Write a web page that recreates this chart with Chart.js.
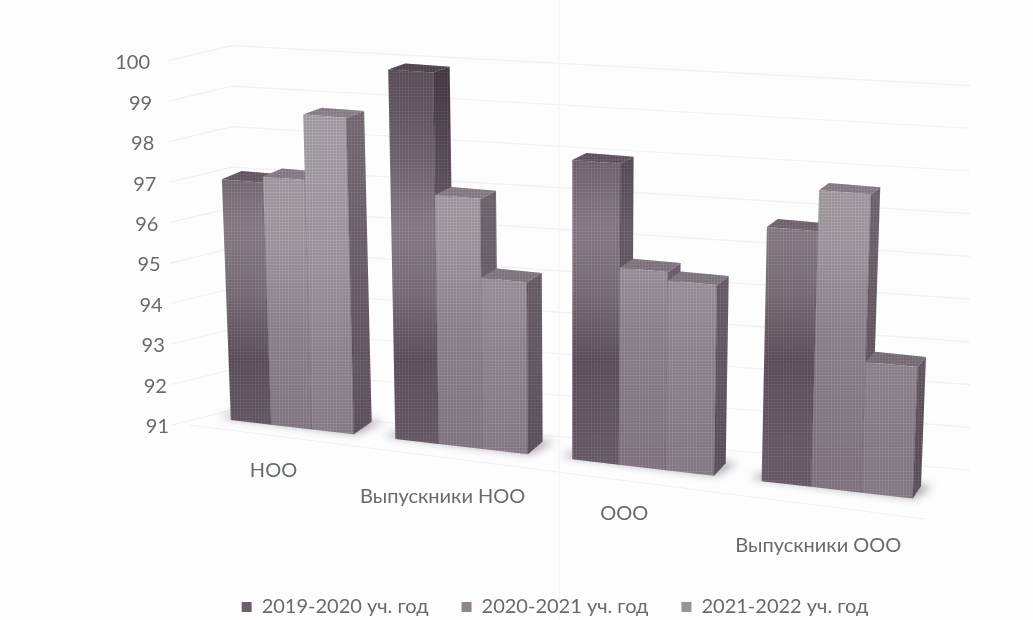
<!DOCTYPE html>
<html lang="ru">
<head>
<meta charset="utf-8">
<title>Chart</title>
<script src="https://cdn.jsdelivr.net/npm/chart.js@4"></script>
<style>
  html, body { margin: 0; padding: 0; background: #fdfdfe; }
  #wrap { width: 1033px; height: 620px; }
</style>
</head>
<body>
<div id="wrap"><canvas id="chart" width="1033" height="620"></canvas></div>
<script>
'use strict';

const categories = ['НОО', 'Выпускники НОО', 'ООО', 'Выпускники ООО'];
const seriesNames = ['2019-2020 уч. год', '2020-2021 уч. год', '2021-2022 уч. год'];
const values2019 = [96.95, 99.95, 98.1, 96.9];
const values2020 = [97.1, 97.0, 95.65, 97.85];
const values2021 = [98.7, 95.1, 95.45, 94.0];
const yMin = 91;
const yMax = 100;

// Style of the three series
const legendColors = ['#6b5f69', '#8f858e', '#9a919a'];
const frontStops = [
    [[0.02, '#5d515b'], [0.2, '#6f636d'], [0.38, '#8a7f88'], [0.52, '#7d717b'], [0.68, '#5f535d'], [0.9, '#6a5e68']],
    [[0.1, '#aaa1a9'], [0.4, '#a59ca4'], [0.62, '#908690'], [0.9, '#857a84']],
    [[0.1, '#aca4ac'], [0.4, '#a59da5'], [0.65, '#948a93'], [0.9, '#8b808a']]
];
const sideStops = [
    [[0.02, '#463b45'], [0.4, '#6b5f69'], [0.7, '#4f434d'], [0.9, '#574b55']],
    [[0.1, '#7a6f79'], [0.7, '#655a64'], [0.9, '#5f545e']],
    [[0.1, '#7a6f79'], [0.7, '#655a64'], [0.9, '#5f545e']]
];
const textColor = '#666a6e';
const gridColor = '#f0f0f4';
const labelFont = '20px Lato, "Open Sans", sans-serif';

// Fake 3D view: flat chart pixels are bent into the tilted picture
const view = {
    floorY: 420,
    floorSlope: 0.115,
    originX: 230,
    vanishX: 571,
    lean: 0.00011,
    grow: 0.00012
};

function screenX(chart, u) {
    const area = chart.chartArea;
    const t = (u - area.left) / ((area.right - area.left) / categories.length) - 0.5;
    return 291.5 + 163 * t + 6.2 * t * t;
}

function project(chart, u, y) {
    const X = screenX(chart, u);
    const h = (chart.chartArea.bottom - y) * (1 + view.grow * (X - view.originX));
    return {
        x: X + view.lean * (X - view.vanishX) * h,
        y: view.floorY + view.floorSlope * (X - view.originX) - h,
        depthX: 18 - (X - 340) * 0.017,
        depthY: -(12.5 - h * 0.018)
    };
}

function fillPoly(ctx, points, fill) {
    ctx.beginPath();
    points.forEach((p, i) => (i ? ctx.lineTo(p.x, p.y) : ctx.moveTo(p.x, p.y)));
    ctx.closePath();
    ctx.fillStyle = fill;
    ctx.fill();
}

function back(p) {
    return { x: p.x + p.depthX, y: p.y + p.depthY };
}

function verticalGradient(ctx, stops) {
    const g = ctx.createLinearGradient(0, 60, 0, 500);
    stops.forEach(s => g.addColorStop(s[0], s[1]));
    return g;
}

// Printed dots of the scanned page
let dots = null;
function dotPattern(ctx) {
    if (!dots) {
        const tile = document.createElement('canvas');
        tile.width = 3;
        tile.height = 3;
        const t = tile.getContext('2d');
        t.fillStyle = 'rgba(255,255,255,0.1)';
        t.fillRect(0, 0, 1, 1);
        t.fillStyle = 'rgba(40,30,40,0.1)';
        t.fillRect(1, 1, 2, 2);
        dots = ctx.createPattern(tile, 'repeat');
    }
    return dots;
}

function drawBar(chart, bar, series) {
    const ctx = chart.ctx;
    const left = bar.x - bar.width / 2;
    const right = bar.x + bar.width / 2;
    const tl = project(chart, left, bar.y);
    const tr = project(chart, right, bar.y);
    const bl = project(chart, left, bar.base);
    const br = project(chart, right, bar.base);
    const side = [tr, back(tr), back(br), br];
    const top = [tl, back(tl), back(tr), tr];
    const front = [tl, tr, br, bl];

    fillPoly(ctx, side, verticalGradient(ctx, sideStops[series]));
    fillPoly(ctx, top, verticalGradient(ctx, frontStops[series]));
    fillPoly(ctx, top, 'rgba(60,50,60,0.28)');
    fillPoly(ctx, front, verticalGradient(ctx, frontStops[series]));
    [side, top, front].forEach(face => fillPoly(ctx, face, dotPattern(ctx)));

    ctx.save();
    ctx.strokeStyle = 'rgba(70,60,70,0.4)';
    ctx.beginPath();
    ctx.moveTo(tr.x, tr.y);
    ctx.lineTo(br.x, br.y);
    ctx.stroke();
    ctx.restore();
}

function drawShadow(chart, first, last) {
    const ctx = chart.ctx;
    const bl = project(chart, first.x - first.width / 2, first.base);
    const br = project(chart, last.x + last.width / 2, last.base);
    ctx.save();
    ctx.filter = 'blur(4px)';
    fillPoly(ctx, [
        { x: bl.x - 12, y: bl.y - 3 },
        { x: back(bl).x, y: back(bl).y },
        { x: back(br).x + 12, y: back(br).y },
        { x: br.x + 3, y: br.y }
    ], '#b0acb0');
    ctx.restore();
}

function drawGrid(chart) {
    const ctx = chart.ctx;
    const yScale = chart.scales.y;
    ctx.save();
    ctx.strokeStyle = gridColor;
    ctx.lineWidth = 1.2;
    yScale.ticks.forEach(tick => {
        const h = chart.chartArea.bottom - yScale.getPixelForValue(tick.value);
        ctx.beginPath();
        ctx.moveTo(172 - h * 0.01, 425 - h);
        ctx.lineTo(232, 410 - h);
        ctx.lineTo(970, 470 - h * 1.055);
        ctx.stroke();
    });
    // front edge of the floor
    ctx.beginPath();
    ctx.moveTo(190, 425);
    ctx.lineTo(925, 519);
    ctx.stroke();
    // fold of the scanned sheet
    ctx.strokeStyle = '#f3f3f8';
    ctx.beginPath();
    ctx.moveTo(559, 0);
    ctx.lineTo(559, 620);
    ctx.stroke();
    ctx.restore();
}

function drawAxisText(chart) {
    const ctx = chart.ctx;
    const yScale = chart.scales.y;
    const xScale = chart.scales.x;
    const labelDrop = [43, 50.5, 46, 56];
    ctx.save();
    ctx.font = labelFont;
    ctx.fillStyle = textColor;
    ctx.textBaseline = 'middle';
    ctx.textAlign = 'right';
    yScale.ticks.forEach(tick => {
        const h = chart.chartArea.bottom - yScale.getPixelForValue(tick.value);
        ctx.fillText(String(tick.value), 169 - h * 0.052, 427 - h);
    });
    ctx.textAlign = 'center';
    categories.forEach((name, i) => {
        const p = project(chart, xScale.getPixelForValue(i), chart.chartArea.bottom);
        ctx.fillText(name, p.x - 18, p.y + labelDrop[i]);
    });
    ctx.restore();
}

const tiltedBars = {
    id: 'tiltedBars',
    // the library's own bars are replaced by the bent ones
    beforeDatasetsDraw(chart) {
        const metas = chart.getSortedVisibleDatasetMetas();
        drawGrid(chart);
        categories.forEach((name, i) => {
            drawShadow(chart, metas[0].data[i], metas[metas.length - 1].data[i]);
        });
        categories.forEach((name, i) => {
            metas.forEach((meta, series) => drawBar(chart, meta.data[i], series));
        });
        drawAxisText(chart);
        return false;
    }
};

new Chart(document.getElementById('chart'), {
    type: 'bar',
    data: {
        labels: categories,
        datasets: [
            { label: seriesNames[0], data: values2019, backgroundColor: legendColors[0] },
            { label: seriesNames[1], data: values2020, backgroundColor: legendColors[1] },
            { label: seriesNames[2], data: values2021, backgroundColor: legendColors[2] }
        ]
    },
    options: {
        responsive: false,
        animation: false,
        devicePixelRatio: 1,
        layout: { padding: { left: 100, right: 23, top: 54.6, bottom: -7 } },
        datasets: { bar: { barPercentage: 1, categoryPercentage: 0.755, base: yMin } },
        scales: {
            x: {
                grid: { display: false },
                border: { display: false },
                ticks: { display: false },
                afterFit(scale) { scale.height = 145; }
            },
            y: {
                min: yMin,
                max: yMax,
                grid: { display: false },
                border: { display: false },
                ticks: { display: false, stepSize: 1 }
            }
        },
        plugins: {
            tooltip: { enabled: false },
            legend: {
                position: 'bottom',
                labels: {
                    boxWidth: 10,
                    boxHeight: 10,
                    padding: 33,
                    color: textColor,
                    font: { family: 'Lato, "Open Sans", sans-serif', size: 20 }
                }
            }
        }
    },
    plugins: [tiltedBars]
});
</script>
</body>
</html>
